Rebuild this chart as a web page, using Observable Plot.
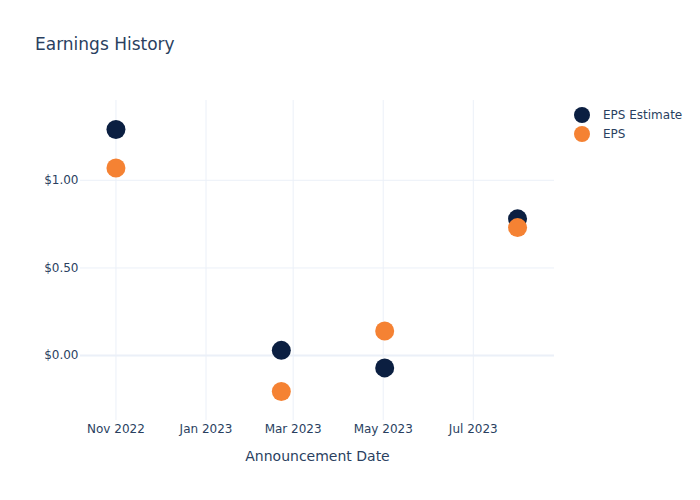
<!DOCTYPE html>
<html>
<head>
<meta charset="utf-8">
<script src="https://cdn.jsdelivr.net/npm/d3@7"></script>
<script src="https://cdn.jsdelivr.net/npm/@observablehq/plot@0.6"></script>
<style>
  html, body { margin: 0; padding: 0; background: #fff; }
  #wrap { position: relative; width: 700px; height: 500px; font-family: "DejaVu Sans", "Open Sans", sans-serif; color: #2a3f5f; }
  #title { position: absolute; left: 35px; top: 34px; font-size: 17px; }
  #legend { position: absolute; left: 574px; top: 105px; font-size: 12px; }
  .item { display: flex; align-items: center; height: 19px; }
  .sw { width: 16px; height: 16px; border-radius: 50%; margin-right: 13px; }
</style>
</head>
<body>
<div id="wrap">
  <div id="chart"></div>
  <div id="title"></div>
  <div id="legend"></div>
</div>
<script>
const titleText = "Earnings History";
const xLabel = "Announcement Date";
const dates = ["2022-11-01", "2023-02-21", "2023-05-02", "2023-07-31"];
const epsEstimate = [1.29, 0.03, -0.07, 0.78];
const eps = [1.07, -0.205, 0.14, 0.73];
const seriesNames = ["EPS Estimate", "EPS"];
const seriesColors = ["#0b1f41", "#f58233"];
const xDomain = ["2022-10-08", "2023-08-25"];
const yDomain = [-0.37, 1.455];
const yTicks = [0, 0.5, 1];

const data = [];
dates.forEach((d, i) => data.push({date: new Date(d), value: epsEstimate[i], series: seriesNames[0]}));
dates.forEach((d, i) => data.push({date: new Date(d), value: eps[i], series: seriesNames[1]}));

const xTicks = d3.utcMonth.every(2).range(new Date(xDomain[0]), new Date(xDomain[1]));
const grid = "#ebf0f8";

const chart = Plot.plot({
  width: 700,
  height: 500,
  marginLeft: 80,
  marginRight: 146,
  marginTop: 100,
  marginBottom: 80,
  style: {fontFamily: "DejaVu Sans, sans-serif", fontSize: "12px", color: "#2a3f5f", background: "#fff"},
  x: {type: "utc", domain: xDomain.map(d => new Date(d))},
  y: {domain: yDomain},
  color: {domain: seriesNames, range: seriesColors},
  marks: [
    Plot.gridX(xTicks, {stroke: grid, strokeOpacity: 1, strokeWidth: 1}),
    Plot.gridY(yTicks, {stroke: grid, strokeOpacity: 1, strokeWidth: 1}),
    Plot.ruleY([0], {stroke: grid, strokeWidth: 2}),
    Plot.axisX(xTicks, {tickSize: 0, tickPadding: 4, tickFormat: d3.utcFormat("%b %Y"), label: null, fill: "#2a3f5f", fontSize: 12}),
    Plot.axisY(yTicks, {tickSize: 0, tickPadding: 2, tickFormat: d => "$" + d.toFixed(2), label: null, fill: "#2a3f5f", fontSize: 12}),
    Plot.text([xLabel], {frameAnchor: "bottom", fontSize: 14, fill: "#2a3f5f", lineAnchor: "top", dy: 31}),
    Plot.dot(data, {x: "date", y: "value", fill: "series", r: 9.5, stroke: "none"})
  ]
});
document.getElementById("chart").appendChild(chart);
document.getElementById("title").textContent = titleText;
const leg = document.getElementById("legend");
seriesNames.forEach((n, i) => {
  const it = document.createElement("div");
  it.className = "item";
  const sw = document.createElement("div");
  sw.className = "sw";
  sw.style.background = seriesColors[i];
  const t = document.createElement("span");
  t.textContent = n;
  it.appendChild(sw); it.appendChild(t);
  leg.appendChild(it);
});
</script>
</body>
</html>
